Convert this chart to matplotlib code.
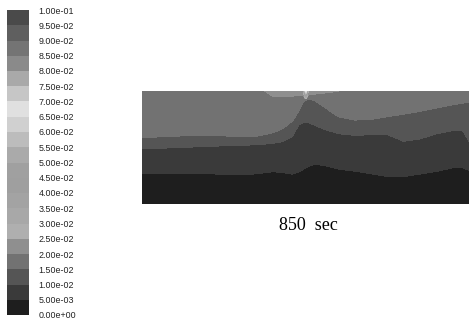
import numpy as np
import matplotlib.pyplot as plt
from matplotlib.colors import ListedColormap

plt.rcParams['font.family'] = ['Liberation Sans', 'DejaVu Sans']

# contour levels of the legend bar (0 .. 0.1 in steps of 0.005)
levels = np.linspace(0.0, 0.1, 21)

# one grey per band, from the lowest band (0 - 5e-3) to the highest (9.5e-2 - 0.1)
band_colors = ["#1e1e1e", "#3a3a3a", "#555555", "#727272", "#8f8f8f",
               "#afafaf", "#a8a8a8", "#a3a3a3", "#9f9f9f", "#a0a0a0",
               "#aaaaaa", "#bcbcbc", "#d0d0d0", "#e0e0e0", "#c6c6c6",
               "#a9a9a9", "#8a8a8a", "#747474", "#5f5f5f", "#4a4a4a"]

# positions along the domain (0 = left end, 1 = right end)
x_stations = [0.0, 0.05, 0.10, 0.15, 0.20, 0.25, 0.30, 0.35, 0.40, 0.43,
              0.46, 0.48, 0.495, 0.51, 0.53, 0.56, 0.60, 0.65, 0.70, 0.75,
              0.80, 0.85, 0.90, 0.95, 0.98, 1.0]

# height of each iso-line at those stations (fraction of the domain height)
iso_005 = [0.267, 0.270, 0.273, 0.273, 0.267, 0.264, 0.258, 0.267, 0.285, 0.279,
           0.264, 0.285, 0.309, 0.332, 0.353, 0.338, 0.309, 0.291, 0.267, 0.243,
           0.243, 0.264, 0.288, 0.320, 0.323, 0.297]
iso_010 = [0.490, 0.493, 0.499, 0.504, 0.510, 0.516, 0.519, 0.525, 0.537, 0.552,
           0.599, 0.703, 0.724, 0.718, 0.694, 0.659, 0.623, 0.608, 0.614, 0.614,
           0.555, 0.576, 0.620, 0.650, 0.653, 0.555]
iso_015 = [0.585, 0.593, 0.599, 0.605, 0.608, 0.602, 0.593, 0.599, 0.629, 0.665,
           0.733, 0.822, 0.911, 0.932, 0.911, 0.852, 0.772, 0.742, 0.748, 0.772,
           0.795, 0.819, 0.849, 0.878, 0.893, 0.902]
# 1.05 = the 0.02 line lies above the top of the domain there
iso_020 = [1.05, 1.05, 1.05, 1.05, 1.05, 1.05, 1.05, 1.05, 0.953, 0.950,
           0.955, 0.958, 0.961, 0.964, 0.973, 0.982, 0.997, 1.05, 1.05, 1.05,
           1.05, 1.05, 1.05, 1.05, 1.05, 1.05]

# narrow plume at the top of the domain
spike_x = 0.501
spike_peak = 0.069

caption = "850  sec"


def build_field(nx=800, ny=300):
    """Builds the concentration field from the iso-line heights."""
    xs = np.linspace(0, 1, nx)
    ys = np.linspace(0, 1, ny)
    h1 = np.interp(xs, x_stations, iso_005)
    h2 = np.interp(xs, x_stations, iso_010)
    h3 = np.interp(xs, x_stations, iso_015)
    h4 = np.interp(xs, x_stations, iso_020)
    z = np.empty((ny, nx))
    for i in range(nx):
        nodes = [0.0, h1[i], h2[i], h3[i], h4[i], h4[i] + 0.3]
        z[:, i] = np.interp(ys, nodes, [0.0, 0.005, 0.01, 0.015, 0.02, 0.025])
    X, Y = np.meshgrid(xs, ys)
    plume = spike_peak * np.exp(-0.5 * ((X - spike_x) / 0.005) ** 2) \
        * np.clip(1 - (1 - Y) / 0.1, 0, 1)
    z = np.maximum(z, plume)
    return xs, ys, z


xs, ys, z = build_field()

fig = plt.figure(figsize=(4.69, 3.23), dpi=100)
ax = fig.add_axes([142 / 469, 119 / 323, 327 / 469, 113 / 323])
cs = ax.contourf(xs, ys, z, levels=levels, cmap=ListedColormap(band_colors))
ax.set_xlim(0, 1)
ax.set_ylim(0, 1)
ax.set_axis_off()

cax = fig.add_axes([7 / 469, 8 / 323, 22 / 469, 305 / 323])
cb = fig.colorbar(cs, cax=cax, ticks=levels, format='%.2e')
cb.outline.set_visible(False)
cb.ax.tick_params(length=0, pad=7, labelsize=6.4, labelcolor='#222222')

fig.text(308 / 469, 1 - 230 / 323, caption, ha='center', va='baseline',
         family='Liberation Serif', fontsize=13)

fig.savefig("out.png", dpi=100, facecolor='white')
